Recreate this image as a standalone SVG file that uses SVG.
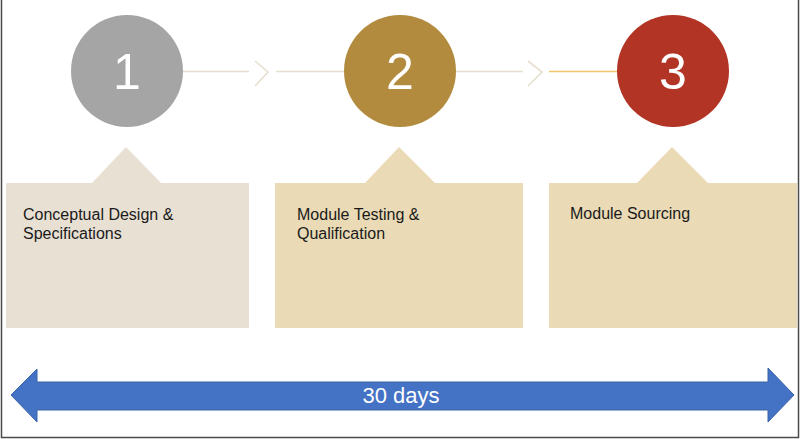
<svg xmlns="http://www.w3.org/2000/svg" width="800" height="439" viewBox="0 0 800 439">
<style>
.num{font-family:"Liberation Sans",Arial,sans-serif;font-size:50px;fill:#ffffff;text-anchor:middle}
.lbl{font-family:"Liberation Sans",Arial,sans-serif;font-size:16px;fill:#1a1a1a}
.conn{stroke:#e6dfcf;stroke-width:1.6;fill:none}
</style>
<rect x="0" y="0" width="800" height="439" fill="#ffffff"/>
<path d="M1.5,0 V437.5 H798.5 V0" fill="none" stroke="#4a4a4a" stroke-width="1.5"/>
<g id="connectors">
<line class="conn" x1="183" y1="71.5" x2="249" y2="71.5"/>
<polyline class="conn" points="255,61 268,72 255,86" stroke-width="2"/>
<line class="conn" x1="276" y1="71.5" x2="344" y2="71.5"/>
<line class="conn" x1="455" y1="71.5" x2="523" y2="71.5"/>
<polyline class="conn" points="528,61 542,72 528,86" stroke-width="2"/>
<line x1="549" y1="71.5" x2="618" y2="71.5" stroke="#f2c46c" stroke-width="1.6"/>
</g>
<g id="step1">
<circle cx="127" cy="71" r="56" fill="#a5a5a5"/>
<text class="num" x="127" y="89">1</text>
</g>
<g id="step2">
<circle cx="400" cy="71" r="56" fill="#b28b3f"/>
<text class="num" x="400" y="89">2</text>
</g>
<g id="step3">
<circle cx="673" cy="71" r="56" fill="#b23424"/>
<text class="num" x="673" y="89">3</text>
</g>
<g id="box1">
<path d="M6,183 L92,183 L126,147 L161,183 L249,183 L249,328 L6,328 Z" fill="#e8e0d3"/>
<text class="lbl" x="23" y="220">Conceptual Design &amp;</text>
<text class="lbl" x="23" y="239">Specifications</text>
</g>
<g id="box2">
<path d="M275,183 L365,183 L399,147 L435,183 L523,183 L523,328 L275,328 Z" fill="#eadab6"/>
<text class="lbl" x="297" y="220">Module Testing &amp;</text>
<text class="lbl" x="297" y="239">Qualification</text>
</g>
<g id="box3">
<path d="M549,183 L637,183 L672,147 L708,183 L797,183 L797,328 L549,328 Z" fill="#eadab6"/>
<text class="lbl" x="570" y="219">Module Sourcing</text>
</g>
<g id="timeline">
<path d="M11,395 L37,369 L37,382 L768,382 L768,368 L794,395 L768,422 L768,410 L37,410 L37,422 Z" fill="#4472c4" stroke="#3a62a8" stroke-width="1"/>
<text x="401" y="403" font-family="'Liberation Sans',Arial,sans-serif" font-size="22" fill="#ffffff" text-anchor="middle">30 days</text>
</g>
</svg>
